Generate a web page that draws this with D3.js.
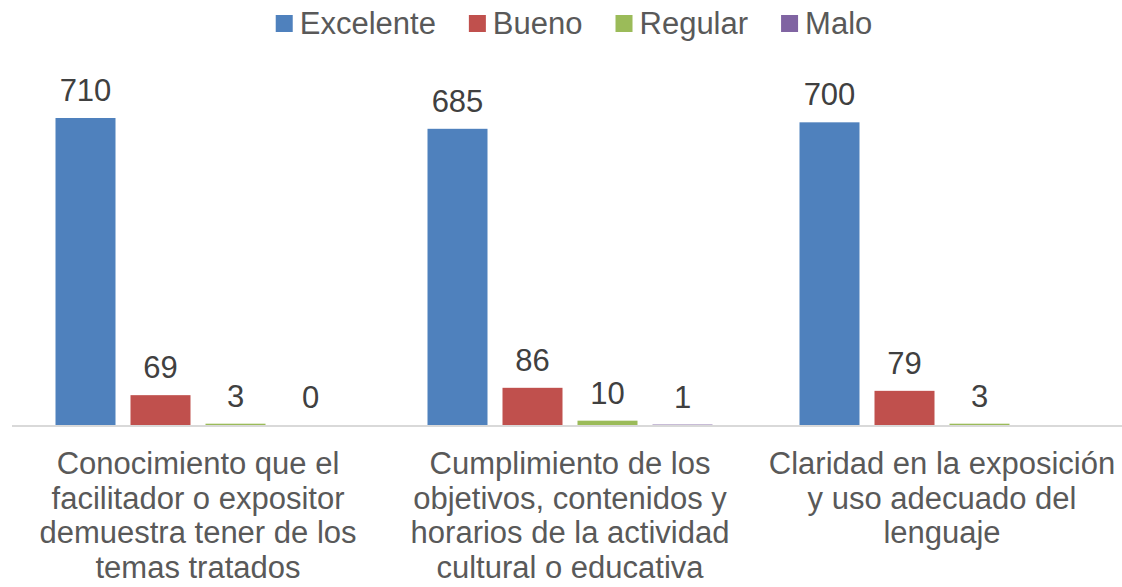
<!DOCTYPE html>
<html>
<head>
<meta charset="utf-8">
<script src="https://cdn.jsdelivr.net/npm/d3@7"></script>
<style>
  body { margin: 0; background: #fff; }
  svg { display: block; font-family: Arial, "Liberation Sans", sans-serif; }
</style>
</head>
<body>
<svg id="chart" width="1122" height="587"></svg>
<script>
// categorias (lineas de la etiqueta) y series
var categories = [
  ["Conocimiento que el", "facilitador o expositor", "demuestra tener de los", "temas tratados"],
  ["Cumplimiento de los", "objetivos, contenidos y", "horarios de la actividad", "cultural o educativa"],
  ["Claridad en la exposición", "y uso adecuado del", "lenguaje"]
];
var seriesNames = ["Excelente", "Bueno", "Regular", "Malo"];
var excelente = [710, 685, 700];
var bueno = [69, 86, 79];
var regular = [3, 10, 3];
var malo = [0, 1, null];

var colors = ["#4F81BD", "#C0504D", "#9BBB59", "#8064A2"];
var seriesValues = [excelente, bueno, regular, malo];

var svg = d3.select("#chart");
var width = 1122, height = 587;
var fontSize = 31;

var x0 = d3.scaleBand()
  .domain(d3.range(categories.length))
  .range([12, 1128]);
var x1 = d3.scaleBand()
  .domain(seriesNames)
  .range([0, x0.bandwidth()])
  .paddingInner(0.2)
  .paddingOuter(0.58);
var y = d3.scaleLinear()
  .domain([0, 800])
  .range([425, 425 - 800 * 0.4324]);

// barras
var groups = svg.append("g").selectAll("g")
  .data(categories)
  .enter().append("g")
  .attr("transform", function (d, i) { return "translate(" + x0(i) + ",0)"; });

var cells = groups.selectAll("g.cell")
  .data(function (d, i) {
    return seriesNames.map(function (s, j) { return { s: s, j: j, v: seriesValues[j][i] }; })
      .filter(function (c) { return c.v !== null; });
  })
  .enter().append("g").attr("class", "cell");

cells.append("rect")
  .attr("x", function (d) { return x1(d.s); })
  .attr("width", x1.bandwidth())
  .attr("y", function (d) { return y(d.v); })
  .attr("height", function (d) { return y(0) - y(d.v); })
  .style("fill", function (d) { return colors[d.j]; });

cells.append("text")
  .attr("x", function (d) { return x1(d.s) + x1.bandwidth() / 2; })
  .attr("y", function (d) { return y(d.v) - 17; })
  .attr("text-anchor", "middle")
  .style("font-size", fontSize + "px")
  .style("fill", "#404040")
  .text(function (d) { return d.v; });

// eje
svg.append("line")
  .attr("x1", 12).attr("x2", width)
  .attr("y1", y(0) + 1).attr("y2", y(0) + 1)
  .style("stroke", "#D9D9D9")
  .style("stroke-width", 2);

// etiquetas de categoria
groups.append("text")
  .attr("text-anchor", "middle")
  .style("font-size", "31px")
  .style("fill", "#595959")
  .selectAll("tspan")
  .data(function (d) { return d; })
  .enter().append("tspan")
  .attr("x", x0.bandwidth() / 2)
  .attr("y", function (d, k) { return 474 + k * 34.5; })
  .text(function (d) { return d; });

// leyenda
var legend = svg.append("g");
var lx = 0;
seriesNames.forEach(function (s, j) {
  var item = legend.append("g").attr("transform", "translate(" + lx + ",0)");
  item.append("rect")
    .attr("x", 0).attr("y", 15)
    .attr("width", 17).attr("height", 17)
    .style("fill", colors[j]);
  var t = item.append("text")
    .attr("x", 24).attr("y", 34)
    .style("font-size", fontSize + "px")
    .style("fill", "#595959")
    .text(s);
  lx += 24 + t.node().getComputedTextLength() + 33;
});
var lw = lx - 33;
legend.attr("transform", "translate(" + (574 - lw / 2) + ",0)");
</script>
</body>
</html>
